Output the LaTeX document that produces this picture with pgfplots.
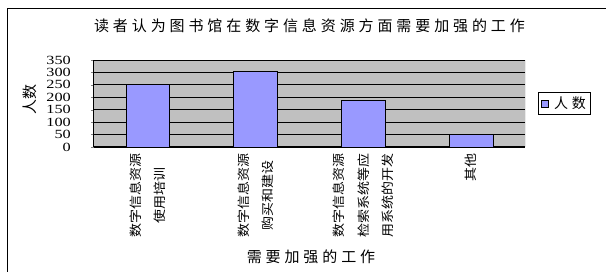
\documentclass[border=0pt]{standalone}
\usepackage{pgfplots}
\pgfplotsset{compat=1.18}
\usepackage{fontspec}
\setmainfont{Liberation Serif}
\newfontfamily\cjk{Noto Sans CJK SC}
\newfontfamily\cjksp[LetterSpace=26]{Noto Sans CJK SC}
\definecolor{plotbg}{HTML}{C0C0C0}
\definecolor{barfill}{HTML}{9999FF}
\begin{document}
\begin{tikzpicture}[x=1pt,y=1pt]
\path[use as bounding box] (0,0) rectangle (606,272);
\draw[line width=1pt] (7,-5) -- (7,263) -- (620,263);
\begin{axis}[
  at={(94pt,125pt)}, anchor=south west, scale only axis,
  width=431pt, height=87pt,
  xmin=-0.5, xmax=3.5, ymin=0, ymax=350,
  axis background/.style={fill=plotbg},
  axis x line*=bottom, axis y line*=left,
  axis line style={black, line width=1pt},
  ybar, bar width=43.7pt,
  ytick={0,50,...,350},
  ymajorgrids, grid style={black, line width=0.8pt},
  tick align=outside,
  major tick length=3pt,
  /pgf/number format/assume math mode=true,
  yticklabel style={font=\fontsize{12.5}{12.5}\selectfont, xscale=1.3, anchor=east, xshift=-12pt},
  xtick={0,1,2,3},
  xticklabels={{数字信息资源\\使用培训},{数字信息资源\\购买和建设},{数字信息资源\\检索系统等应\\用系统的开发},{其他}},
  xticklabel style={font=\cjk\fontsize{12.5}{24.5}\selectfont, rotate=90, xscale=1.12, anchor=east, align=center},
  major x tick style={draw=none},
  extra x ticks={0.5,1.5,2.5}, extra x tick labels={},
  extra x tick style={tick align=inside, major tick length=4pt, major tick style={draw=black, line width=0.8pt}, grid=none},
  legend style={at={(1,0.5)}, anchor=west, xshift=12.7pt, draw=black, line width=0.6pt,
    font=\cjksp\fontsize{14}{14}\selectfont, inner sep=2.5pt, legend cell align=left},
  legend image code/.code={\draw[#1, line width=0.6pt] (2pt,-3.5pt) rectangle (9pt,3.5pt); \path (13pt,0pt);},
]
\addplot[fill=barfill, draw=black, line width=0.8pt] coordinates {(0,250) (1,303) (2,189) (3,51)};
\addlegendentry{人数}
\draw[gray!70!black, line width=0.8pt] (rel axis cs:1,0) -- (rel axis cs:1,1);
\end{axis}
\node[font=\cjksp\fontsize{15}{15}\selectfont] at (309.5,246) {读者认为图书馆在数字信息资源方面需要加强的工作};
\node[font=\cjksp\fontsize{15}{15}\selectfont] at (311,15.5) {需要加强的工作};
\node[font=\cjk\fontsize{15}{15}\selectfont, rotate=90] at (30,172) {人数};
\end{tikzpicture}
\end{document}
